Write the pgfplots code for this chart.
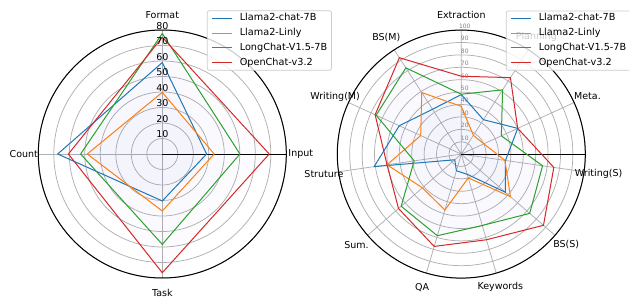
\documentclass[border=0pt]{standalone}
\usepackage{fontspec}
\setmainfont{DejaVu Sans}
\usepackage{pgfplots}
\pgfplotsset{compat=1.18}
\usepgfplotslibrary{polar}
\definecolor{c1}{HTML}{1F77B4}
\definecolor{c2}{HTML}{FF7F0E}
\definecolor{c3}{HTML}{2CA02C}
\definecolor{c4}{HTML}{D62728}
\definecolor{gridc}{HTML}{B0B0B0}
\definecolor{fillc}{rgb}{0.45,0.45,0.9}
\definecolor{legc}{HTML}{CCCCCC}
\newcommand\lbl{\fontsize{9.5bp}{11bp}\selectfont}
\newcommand\rlab{\fontsize{6bp}{7bp}\selectfont}
\pgfplotsset{
  radar/.style={
    scale only axis, width=248bp, height=248bp,
    clip=false, ymin=0,
    xticklabel={\relax}, yticklabel={\relax},
    xticklabel style={inner sep=0pt}, yticklabel style={inner sep=0pt},
    xmajorgrids, ymajorgrids,
    grid style={gridc, line width=0.75bp},
    axis line style={black, line width=1bp},
    major tick length=0pt,
    legend style={at={(0.680,1.079)}, anchor=north west,
      draw=legc, line width=0.75bp, rounded corners=2bp,
      fill=white, fill opacity=0.8, text opacity=1,
      inner xsep=4.2bp, inner ysep=3bp,
      row sep=5.8bp, column sep=7.3bp,
      font=\fontsize{9.7bp}{11bp}\selectfont,
      nodes={inner sep=0pt, text height=7bp, text depth=2bp}},
    legend cell align=left,
    legend image code/.code={\draw[#1, line width=1bp] (0bp,0bp) -- (20bp,0bp);},
  },
  filler/.style={forget plot, draw=none, fill=fillc, fill opacity=0.02},
}
\begin{document}
\begin{tikzpicture}
\begin{polaraxis}[radar, at={(0bp,0bp)}, anchor=center,
  ymax=80, xtick={0,90,180,270}, ytick={10,20,...,80}]
\addplot[filler] coordinates {(90,59.0) (0,28.6) (-90,30.3) (-180,67.5) (-270,59.0)};
\addplot[filler] coordinates {(90,39.8) (0,33.5) (-90,36.8) (-180,48.4) (-270,39.8)};
\addplot[filler] coordinates {(90,77.8) (0,50.1) (-90,58.3) (-180,52.7) (-270,77.8)};
\addplot[filler] coordinates {(90,75.3) (0,69.0) (-90,76.6) (-180,60.6) (-270,75.3)};
\addplot[c1, line width=1bp] coordinates {(90,59.0) (0,28.6) (-90,30.3) (-180,67.5) (-270,59.0)};
\addlegendentry{Llama2-chat-7B}
\addplot[c2, line width=1bp] coordinates {(90,39.8) (0,33.5) (-90,36.8) (-180,48.4) (-270,39.8)};
\addlegendentry{Llama2-Linly}
\addplot[c3, line width=1bp] coordinates {(90,77.8) (0,50.1) (-90,58.3) (-180,52.7) (-270,77.8)};
\addlegendentry{LongChat-V1.5-7B}
\addplot[c4, line width=1bp] coordinates {(90,75.3) (0,69.0) (-90,76.6) (-180,60.6) (-270,75.3)};
\addlegendentry{OpenChat-v3.2}
\pgfplotsinvokeforeach{10,20,...,80}{
  \node[font=\lbl, inner sep=0pt, anchor=center, yshift=4bp] at (axis cs:90,#1) {#1};
}
\node[font=\lbl] at (axis cs:90,89.35) {Format};
\node[font=\lbl] at (axis cs:0,89.35) {Input};
\node[font=\lbl] at (axis cs:270,89.35) {Task};
\node[font=\lbl] at (axis cs:180,89.35) {Count};
\end{polaraxis}

\begin{polaraxis}[radar, at={(299bp,-0.1bp)}, anchor=center,
  ymax=100, ytick={10,20,...,100},
  xtick={90,57.2727,24.5455,351.8182,319.0909,286.3636,253.6364,220.9091,188.1818,155.4545,122.7273}]
\addplot[filler] coordinates {(90,48) (57.2727,33) (24.5455,50) (-8.1818,36) (-40.9091,47) (-73.6364,17) (-106.3636,14) (-139.0909,7) (-171.8182,71) (-204.5455,55) (-237.2727,43) (-270,48)};
\addplot[filler] coordinates {(90,38.5) (57.2727,18) (24.5455,20) (-8.1818,35.5) (-40.9091,52.5) (-73.6364,20) (-106.3636,47) (-139.0909,41.5) (-171.8182,60.5) (-204.5455,36) (-237.2727,59) (-270,38.5)};
\addplot[filler] coordinates {(90,48.3) (57.2727,61.6) (24.5455,35.5) (-8.1818,66.2) (-40.9091,73) (-73.6364,60) (-106.3636,68.6) (-139.0909,64.2) (-171.8182,38.4) (-204.5455,75.5) (-237.2727,82.7) (-270,48.3)};
\addplot[filler] coordinates {(90,62.8) (57.2727,73.3) (24.5455,50) (-8.1818,75.4) (-40.9091,87.7) (-73.6364,72) (-106.3636,77.6) (-139.0909,67) (-171.8182,60.5) (-204.5455,76.4) (-237.2727,92.4) (-270,62.8)};
\addplot[c1, line width=1bp] coordinates {(90,48) (57.2727,33) (24.5455,50) (-8.1818,36) (-40.9091,47) (-73.6364,17) (-106.3636,14) (-139.0909,7) (-171.8182,71) (-204.5455,55) (-237.2727,43) (-270,48)};
\addlegendentry{Llama2-chat-7B}
\addplot[c2, line width=1bp] coordinates {(90,38.5) (57.2727,18) (24.5455,20) (-8.1818,35.5) (-40.9091,52.5) (-73.6364,20) (-106.3636,47) (-139.0909,41.5) (-171.8182,60.5) (-204.5455,36) (-237.2727,59) (-270,38.5)};
\addlegendentry{Llama2-Linly}
\addplot[c3, line width=1bp] coordinates {(90,48.3) (57.2727,61.6) (24.5455,35.5) (-8.1818,66.2) (-40.9091,73) (-73.6364,60) (-106.3636,68.6) (-139.0909,64.2) (-171.8182,38.4) (-204.5455,75.5) (-237.2727,82.7) (-270,48.3)};
\addlegendentry{LongChat-V1.5-7B}
\addplot[c4, line width=1bp] coordinates {(90,62.8) (57.2727,73.3) (24.5455,50) (-8.1818,75.4) (-40.9091,87.7) (-73.6364,72) (-106.3636,77.6) (-139.0909,67) (-171.8182,60.5) (-204.5455,76.4) (-237.2727,92.4) (-270,62.8)};
\addlegendentry{OpenChat-v3.2}
\pgfplotsinvokeforeach{10,20,...,100}{
  \node[font=\rlab, text=gray, inner sep=0pt, anchor=center, xshift=3.5bp, yshift=3.8bp] at (axis cs:90,#1) {#1};
}
\node[font=\lbl] at (axis cs:90,111.9) {Extraction};
\node[font=\lbl] at (axis cs:57.2727,111.9) {Planning};
\node[font=\lbl] at (axis cs:24.5455,111.9) {Meta.};
\node[font=\lbl] at (axis cs:351.8182,111.9) {Writing(S)};
\node[font=\lbl] at (axis cs:319.0909,111.9) {BS(S)};
\node[font=\lbl] at (axis cs:286.3636,111.9) {Keywords};
\node[font=\lbl] at (axis cs:253.6364,111.9) {QA};
\node[font=\lbl] at (axis cs:220.9091,111.9) {Sum.};
\node[font=\lbl] at (axis cs:188.1818,111.9) {Struture};
\node[font=\lbl] at (axis cs:155.4545,111.9) {Writing(M)};
\node[font=\lbl] at (axis cs:122.7273,111.9) {BS(M)};
\end{polaraxis}
\pgfresetboundingbox
\path[use as bounding box] (-162.3bp,154bp) rectangle (466.7bp,-143bp);
\end{tikzpicture}
\end{document}
